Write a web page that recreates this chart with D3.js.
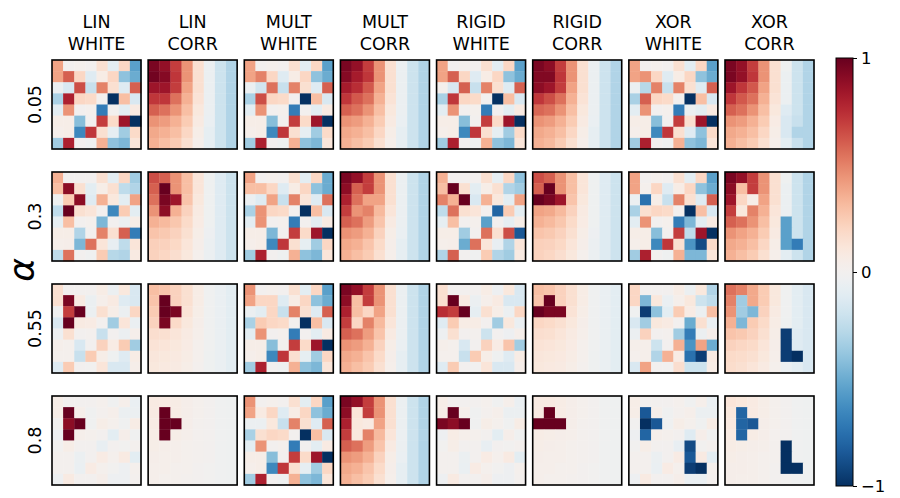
<!DOCTYPE html>
<html><head><meta charset="utf-8">
<script src="https://cdn.jsdelivr.net/npm/d3@7"></script>
<style>body{margin:0;background:#fff}svg{display:block}text{font-family:"DejaVu Sans",sans-serif;fill:#000}</style>
</head><body><svg id="c" width="900" height="498"></svg>
<script>
const titleTop = ["LIN","LIN","MULT","MULT","RIGID","RIGID","XOR","XOR"];
const titleBottom = ["WHITE","CORR","WHITE","CORR","WHITE","CORR","WHITE","CORR"];
const alphas = ["0.05","0.3","0.55","0.8"];
const cbTicks = [-1, 0, 1];

// ---- alpha = 0.05 ----
const linWhite005 = [
[0.4,0,0.02,0,0.15,-0.1,0.2,-0.55],[0.4,0.6,0.2,-0.12,0.06,0.2,-0.4,-0.5],[-0.05,-0.15,0.65,-0.22,0.5,0.15,-0.12,0.6],[-0.32,0.8,0.2,0.18,0,-1,0.3,-0.15],
[-0.1,0.45,0,0.02,-0.7,0,-0.1,0.08],[0.05,0.05,-0.42,0,0.7,0.18,0.85,-1],[0.03,0.05,-0.65,0.72,0.15,-0.08,-0.35,0.18],[-0.35,0.8,0,-0.03,0.35,-0.4,-0.45,0.12]];
const linCorr005 = [
[0.95,0.88,0.7,0.45,0.15,-0.05,-0.2,-0.3],[0.97,0.92,0.72,0.45,0.15,-0.05,-0.2,-0.3],[0.85,0.85,0.7,0.4,0.15,-0.05,-0.2,-0.3],[0.72,0.72,0.55,0.35,0.13,-0.05,-0.2,-0.3],
[0.6,0.55,0.45,0.3,0.1,-0.05,-0.2,-0.3],[0.45,0.42,0.35,0.25,0.08,-0.06,-0.2,-0.3],[0.38,0.35,0.3,0.2,0.05,-0.08,-0.2,-0.3],[0.35,0.3,0.25,0.15,0.03,-0.08,-0.2,-0.3]];
const multWhite005 = [
[0.4,0,0.02,0,0.15,-0.1,0.2,-0.55],[0.4,0.5,0.2,-0.12,0.06,0.2,-0.4,-0.5],[-0.05,-0.18,0.55,-0.22,0.5,0.15,-0.12,0.6],[-0.32,0.65,0.2,0.18,0,-1,0.3,-0.15],
[-0.1,0.45,0,0.02,-0.7,0,-0.1,0.08],[0.05,0.05,-0.42,0,0.7,0.18,0.85,-1],[0.03,0.05,-0.65,0.72,0.15,-0.08,-0.35,0.18],[-0.35,0.8,0,-0.03,0.35,-0.4,-0.45,0.12]];
const multCorr005 = [
[0.95,0.88,0.7,0.45,0.15,-0.05,-0.2,-0.3],[0.92,0.82,0.72,0.45,0.15,-0.05,-0.2,-0.3],[0.82,0.75,0.62,0.4,0.15,-0.05,-0.2,-0.3],[0.72,0.62,0.55,0.35,0.13,-0.05,-0.2,-0.3],
[0.6,0.55,0.45,0.3,0.1,-0.05,-0.2,-0.3],[0.45,0.42,0.35,0.25,0.08,-0.06,-0.2,-0.3],[0.38,0.35,0.3,0.2,0.05,-0.08,-0.2,-0.3],[0.35,0.3,0.25,0.15,0.03,-0.08,-0.2,-0.3]];
const rigidWhite005 = [
[0.4,0,0.02,0,0.15,-0.1,0.2,-0.55],[0.4,0.6,0.2,-0.12,0.06,0.2,-0.4,-0.5],[0.02,-0.15,0.6,-0.22,0.5,0.15,-0.12,0.6],[-0.32,0.72,0.2,0.18,0,-1,0.3,-0.15],
[-0.1,0.45,0,0.02,-0.7,0,-0.1,0.08],[0.05,0.05,-0.42,0,0.7,0.18,0.85,-1],[0.03,0.05,-0.65,0.72,0.15,-0.08,-0.35,0.18],[-0.35,0.8,0,-0.03,0.35,-0.4,-0.45,0.12]];
const rigidCorr005 = [
[0.95,0.9,0.7,0.45,0.15,-0.05,-0.2,-0.3],[0.93,0.93,0.72,0.45,0.15,-0.05,-0.2,-0.3],[0.9,0.85,0.7,0.4,0.15,-0.05,-0.2,-0.3],[0.72,0.65,0.55,0.35,0.13,-0.05,-0.2,-0.3],
[0.58,0.55,0.45,0.3,0.1,-0.05,-0.2,-0.3],[0.45,0.42,0.35,0.25,0.08,-0.06,-0.2,-0.3],[0.38,0.35,0.3,0.2,0.05,-0.08,-0.2,-0.3],[0.35,0.32,0.25,0.15,0.03,-0.08,-0.2,-0.3]];
const xorWhite005 = [
[0.4,0,0.02,0,0.15,-0.1,0.2,-0.55],[0.4,0.45,0.2,-0.12,0.06,0.2,-0.4,-0.5],[-0.05,-0.28,0.5,-0.22,0.5,0.15,-0.12,0.6],[-0.32,0.6,0.2,0.18,0,-1,0.3,-0.15],
[-0.1,0.45,0,0.02,-0.7,-0.05,-0.1,0.08],[0.05,0.05,-0.42,0,0.7,0.15,0.85,-1],[0.03,0.05,-0.65,0.72,0.15,-0.12,-0.4,0.18],[-0.35,0.8,0,-0.03,0.35,-0.4,-0.45,0.12]];
const xorCorr005 = [
[0.95,0.88,0.7,0.45,0.15,-0.03,-0.2,-0.3],[0.95,0.88,0.72,0.45,0.15,-0.05,-0.2,-0.3],[0.85,0.72,0.62,0.4,0.15,-0.05,-0.2,-0.3],[0.72,0.62,0.55,0.35,0.13,-0.05,-0.2,-0.3],
[0.6,0.55,0.45,0.3,0.1,-0.12,-0.2,-0.3],[0.45,0.42,0.35,0.25,0.07,-0.15,-0.22,-0.3],[0.38,0.35,0.3,0.2,0.05,-0.15,-0.3,-0.3],[0.35,0.3,0.25,0.15,0.03,-0.1,-0.22,-0.3]];

// ---- alpha = 0.3 ----
const linWhite03 = [
[0.35,0,0,0,0.15,-0.1,0.2,-0.35],[0.3,0.9,0.15,-0.1,0.05,0.15,-0.25,-0.3],[-0.03,0.25,0.9,-0.12,0.35,0.1,-0.1,0.4],[-0.25,1,0.15,0.12,0,-0.65,0.25,-0.1],
[-0.08,0.3,0,0.02,-0.45,0,-0.05,0.05],[0.05,0.05,-0.3,0,0.5,0.15,0.6,-0.7],[0.03,0.04,-0.45,0.55,0.12,-0.07,-0.25,0.12],[-0.25,0.55,0,-0.02,0.25,-0.28,-0.3,0.08]];
const linCorr03 = [
[0.65,0.6,0.45,0.3,0.12,-0.03,-0.12,-0.2],[0.6,1,0.45,0.3,0.12,-0.03,-0.12,-0.2],[0.55,0.95,0.85,0.28,0.1,-0.03,-0.12,-0.2],[0.45,0.9,0.35,0.22,0.08,-0.03,-0.12,-0.2],
[0.35,0.32,0.27,0.18,0.07,-0.03,-0.12,-0.2],[0.28,0.26,0.22,0.15,0.05,-0.04,-0.12,-0.2],[0.23,0.22,0.19,0.12,0.04,-0.05,-0.12,-0.2],[0.22,0.2,0.16,0.1,0.02,-0.05,-0.12,-0.2]];
const multWhite03 = [
[0.4,0,0.02,0,0.15,-0.1,0.2,-0.5],[0.3,0.3,0.2,-0.12,0.06,0.2,-0.4,-0.5],[-0.05,-0.12,0.4,-0.22,0.5,0.12,-0.12,0.55],[-0.32,0.45,0.2,0.18,0,-1,0.3,-0.15],
[-0.1,0.45,0,0.02,-0.7,0,-0.1,0.08],[0.05,0.05,-0.45,0,0.7,0.18,0.85,-1],[0.03,0.05,-0.65,0.72,0.15,-0.08,-0.35,0.2],[-0.35,0.8,0,-0.03,0.35,-0.4,-0.45,0.12]];
const multCorr03 = [
[0.95,0.88,0.7,0.45,0.15,-0.05,-0.2,-0.3],[0.9,0.6,0.7,0.45,0.15,-0.05,-0.2,-0.3],[0.8,0.55,0.4,0.4,0.15,-0.05,-0.2,-0.3],[0.7,0.45,0.5,0.32,0.12,-0.05,-0.2,-0.3],
[0.6,0.55,0.42,0.28,0.08,-0.05,-0.2,-0.3],[0.45,0.42,0.35,0.22,0.05,-0.06,-0.2,-0.3],[0.38,0.35,0.28,0.18,0.04,-0.08,-0.2,-0.3],[0.35,0.3,0.25,0.15,0.03,-0.08,-0.2,-0.3]];
const rigidWhite03 = [
[0.35,0,0,0,0.15,-0.08,0.2,-0.4],[0.3,1,0.15,-0.1,0.05,0.15,-0.3,-0.35],[0.5,0.35,1,-0.15,0.35,0.1,-0.1,0.4],[-0.25,0.55,0.15,0.12,0,-0.8,0.25,-0.1],
[-0.08,0.3,0,0.02,-0.55,0,-0.08,0.05],[0.05,0.05,-0.35,0,0.55,0.15,0.65,-0.85],[0.03,0.04,-0.5,0.55,0.12,-0.07,-0.3,0.12],[-0.3,0.6,0,-0.02,0.25,-0.3,-0.35,0.08]];
const rigidCorr03 = [
[0.65,0.6,0.45,0.3,0.12,-0.03,-0.12,-0.2],[0.6,1,0.45,0.3,0.12,-0.03,-0.12,-0.2],[1,0.95,0.85,0.28,0.1,-0.03,-0.12,-0.2],[0.4,0.38,0.32,0.22,0.08,-0.03,-0.12,-0.2],
[0.35,0.32,0.27,0.18,0.07,-0.03,-0.12,-0.2],[0.28,0.26,0.22,0.15,0.05,-0.04,-0.12,-0.2],[0.23,0.22,0.19,0.12,0.04,-0.05,-0.12,-0.2],[0.22,0.2,0.16,0.1,0.02,-0.05,-0.12,-0.2]];
const xorWhite03 = [
[0.4,0,0.02,0,0.15,-0.1,0.2,-0.55],[0.4,0.02,0.2,-0.12,0.06,0.2,-0.4,-0.5],[-0.05,-0.75,0.05,-0.22,0.5,0.15,-0.12,0.6],[-0.32,0.15,0.2,0.18,0,-1,0.3,-0.15],
[-0.1,0.45,0,0.02,-0.7,-0.45,-0.1,0.08],[0.05,0.05,-0.42,0,0.7,-0.25,0.85,-1],[0.03,0.05,-0.65,0.72,0.15,-0.6,-0.9,0.18],[-0.35,0.8,0,-0.03,0.35,-0.45,-0.45,0.12]];
const xorCorr03 = [
[0.95,0.88,0.7,0.45,0.15,-0.03,-0.2,-0.3],[0.9,0.3,0.7,0.45,0.15,-0.05,-0.2,-0.3],[0.85,0.2,0.05,0.4,0.15,-0.05,-0.2,-0.3],[0.7,0.1,0.5,0.35,0.12,-0.05,-0.2,-0.3],
[0.6,0.55,0.45,0.3,0.1,-0.55,-0.2,-0.3],[0.45,0.4,0.35,0.25,0.08,-0.55,-0.2,-0.3],[0.38,0.35,0.3,0.2,0.05,-0.55,-0.7,-0.3],[0.35,0.3,0.25,0.15,0.03,-0.1,-0.2,-0.3]];

// ---- alpha = 0.55 ----
const linWhite055 = [
[0.15,0,0,0,0.06,-0.05,0.1,-0.15],[0.15,0.95,0.08,-0.05,0.03,0.08,-0.12,-0.15],[-0.02,0.7,1,-0.05,0.15,0.05,-0.05,0.2],[-0.15,1,0.08,0.07,0,-0.35,0.12,-0.06],
[-0.04,0.15,0,0.01,-0.22,0,-0.05,0.03],[0.03,0.02,-0.15,0,0.22,0.07,0.25,-0.35],[0.02,0.02,-0.22,0.25,0.05,-0.03,-0.12,0.06],[-0.12,0.25,0,-0.01,0.12,-0.15,-0.15,0.04]];
const linCorr055 = [
[0.3,0.28,0.22,0.15,0.06,-0.02,-0.06,-0.1],[0.28,1,0.22,0.15,0.06,-0.02,-0.06,-0.1],[0.25,1,0.95,0.13,0.05,-0.02,-0.06,-0.1],[0.22,0.95,0.18,0.1,0.04,-0.02,-0.06,-0.1],
[0.16,0.15,0.12,0.08,0.03,-0.02,-0.06,-0.1],[0.13,0.12,0.1,0.07,0.02,-0.02,-0.06,-0.1],[0.11,0.1,0.09,0.06,0.02,-0.03,-0.06,-0.1],[0.1,0.09,0.08,0.05,0.01,-0.03,-0.06,-0.1]];
const multWhite055 = [
[0.45,0,0.02,0,0.15,-0.1,0.2,-0.55],[0.4,0.2,0.2,-0.12,0.06,0.2,-0.4,-0.5],[-0.05,-0.1,0.2,-0.22,0.5,0.15,-0.12,0.6],[-0.32,0.25,0.2,0.18,0,-1,0.3,-0.15],
[-0.1,0.45,0,0.02,-0.7,0,-0.1,0.08],[0.05,0.05,-0.42,0,0.7,0.18,0.85,-1],[0.03,0.05,-0.65,0.72,0.15,-0.08,-0.35,0.2],[-0.35,0.8,0,-0.03,0.35,-0.4,-0.45,0.12]];
const multCorr055 = [
[0.95,0.88,0.7,0.45,0.15,-0.05,-0.2,-0.3],[0.9,0.3,0.7,0.45,0.15,-0.05,-0.2,-0.3],[0.8,0.3,0.2,0.4,0.15,-0.05,-0.2,-0.3],[0.7,0.2,0.5,0.32,0.12,-0.05,-0.2,-0.3],
[0.6,0.55,0.42,0.28,0.08,-0.05,-0.2,-0.3],[0.45,0.42,0.35,0.22,0.05,-0.06,-0.2,-0.3],[0.38,0.35,0.28,0.18,0.04,-0.08,-0.2,-0.3],[0.35,0.3,0.25,0.15,0.03,-0.08,-0.2,-0.3]];
const rigidWhite055 = [
[0.15,0,0,0,0.06,-0.04,0.1,-0.15],[0.15,1,0.08,-0.05,0.03,0.08,-0.15,-0.15],[0.75,0.7,1,-0.08,0.15,0.05,-0.05,0.2],[-0.12,0.25,0.06,0.06,0,-0.35,0.1,-0.06],
[-0.04,0.15,0,0.01,-0.2,0,-0.04,0.03],[0.03,0.02,-0.15,0,0.22,0.07,0.28,-0.35],[0.02,0.02,-0.22,0.25,0.05,-0.03,-0.12,0.06],[-0.12,0.25,0,-0.01,0.12,-0.15,-0.15,0.04]];
const rigidCorr055 = [
[0.3,0.28,0.22,0.15,0.06,-0.02,-0.06,-0.1],[0.28,1,0.22,0.15,0.06,-0.02,-0.06,-0.1],[1,0.95,0.95,0.13,0.05,-0.02,-0.06,-0.1],[0.2,0.18,0.15,0.1,0.04,-0.02,-0.06,-0.1],
[0.16,0.15,0.12,0.08,0.03,-0.02,-0.06,-0.1],[0.13,0.12,0.1,0.07,0.02,-0.02,-0.06,-0.1],[0.11,0.1,0.09,0.06,0.02,-0.03,-0.06,-0.1],[0.1,0.09,0.08,0.05,0.01,-0.03,-0.06,-0.1]];
const xorWhite055 = [
[0.2,0,0,0,0.06,-0.05,0.1,-0.3],[0.2,-0.45,0.1,-0.06,0.03,0.1,-0.2,-0.25],[-0.02,-0.95,-0.4,-0.1,0.25,0.07,-0.05,0.3],[-0.15,-0.35,0.1,0.08,0,-0.5,0.15,-0.06],
[-0.05,0.22,0,0.01,-0.35,-0.7,-0.05,0.04],[0.03,0.03,-0.2,0,0.35,-0.6,0.4,-0.5],[0.02,0.03,-0.3,0.35,0.07,-0.75,-0.95,0.08],[-0.15,0.4,0,-0.01,0.16,-0.2,-0.2,0.06]];
const xorCorr055 = [
[0.55,0.5,0.38,0.25,0.1,-0.02,-0.1,-0.15],[0.5,-0.35,0.38,0.25,0.1,-0.02,-0.1,-0.15],[0.45,-0.35,-0.45,0.22,0.08,-0.02,-0.1,-0.15],[0.35,-0.45,0.25,0.18,0.06,-0.03,-0.1,-0.15],
[0.28,0.26,0.22,0.15,0.05,-0.95,-0.12,-0.15],[0.22,0.2,0.18,0.12,0.04,-0.95,-0.12,-0.15],[0.18,0.17,0.15,0.1,0.03,-0.95,-1,-0.15],[0.17,0.15,0.12,0.08,0.02,-0.06,-0.1,-0.15]];

// ---- alpha = 0.8 ----
const linWhite08 = [
[0.05,0,0,0,0.02,-0.02,0.03,-0.06],[0.05,1,0.03,-0.02,0.01,0.03,-0.05,-0.05],[-0.01,0.9,1,-0.02,0.05,0.02,-0.02,0.06],[-0.04,1,0.03,0.02,0,-0.1,0.04,-0.02],
[-0.01,0.05,0,0,-0.07,0,-0.01,0.01],[0.01,0.01,-0.05,0,0.07,0.02,0.08,-0.1],[0.01,0.01,-0.06,0.07,0.02,-0.01,-0.04,0.02],[-0.04,0.08,0,0,0.04,-0.04,-0.04,0.01]];
const linCorr08 = [
[0.08,0.08,0.06,0.04,0.02,0,-0.02,-0.03],[0.08,1,0.06,0.04,0.02,0,-0.02,-0.03],[0.07,1,1,0.04,0.01,0,-0.02,-0.03],[0.06,1,0.05,0.03,0.01,0,-0.02,-0.03],
[0.05,0.04,0.03,0.02,0.01,0,-0.02,-0.03],[0.04,0.03,0.03,0.02,0.01,0,-0.02,-0.03],[0.03,0.03,0.02,0.02,0,-0.01,-0.02,-0.03],[0.03,0.02,0.02,0.01,0,-0.01,-0.02,-0.03]];
const multWhite08 = [
[0.45,0,0.02,0,0.15,-0.1,0.2,-0.55],[0.4,0.08,0.2,-0.12,0.06,0.2,-0.4,-0.5],[-0.05,-0.05,0.1,-0.22,0.5,0.15,-0.12,0.6],[-0.32,0.15,0.2,0.18,0,-1,0.3,-0.15],
[-0.1,0.45,0,0.02,-0.7,0,-0.1,0.08],[0.05,0.05,-0.42,0,0.7,0.18,0.85,-1],[0.03,0.05,-0.65,0.72,0.15,-0.08,-0.35,0.2],[-0.35,0.8,0,-0.03,0.35,-0.4,-0.45,0.12]];
const multCorr08 = [
[0.95,0.88,0.7,0.45,0.15,-0.05,-0.2,-0.3],[0.9,0.12,0.7,0.45,0.15,-0.05,-0.2,-0.3],[0.8,0.1,0.08,0.4,0.15,-0.05,-0.2,-0.3],[0.7,0.1,0.5,0.32,0.12,-0.05,-0.2,-0.3],
[0.6,0.55,0.42,0.28,0.08,-0.05,-0.2,-0.3],[0.45,0.42,0.35,0.22,0.05,-0.06,-0.2,-0.3],[0.38,0.35,0.28,0.18,0.04,-0.08,-0.2,-0.3],[0.35,0.3,0.25,0.15,0.03,-0.08,-0.2,-0.3]];
const rigidWhite08 = [
[0.05,0,0,0,0.02,-0.02,0.03,-0.06],[0.05,1,0.03,-0.02,0.01,0.03,-0.05,-0.05],[0.95,0.9,1,-0.02,0.05,0.02,-0.02,0.06],[-0.04,0.06,0.03,0.02,0,-0.1,0.04,-0.02],
[-0.01,0.05,0,0,-0.07,0,-0.01,0.01],[0.01,0.01,-0.05,0,0.07,0.02,0.08,-0.1],[0.01,0.01,-0.06,0.07,0.02,-0.01,-0.04,0.02],[-0.04,0.08,0,0,0.04,-0.04,-0.04,0.01]];
const rigidCorr08 = [
[0.08,0.08,0.06,0.04,0.02,0,-0.02,-0.03],[0.08,1,0.06,0.04,0.02,0,-0.02,-0.03],[1,1,1,0.04,0.01,0,-0.02,-0.03],[0.06,0.05,0.04,0.03,0.01,0,-0.02,-0.03],
[0.05,0.04,0.03,0.02,0.01,0,-0.02,-0.03],[0.04,0.03,0.03,0.02,0.01,0,-0.02,-0.03],[0.03,0.03,0.02,0.02,0,-0.01,-0.02,-0.03],[0.03,0.02,0.02,0.01,0,-0.01,-0.02,-0.03]];
const xorWhite08 = [
[0.05,0,0,0,0.02,-0.02,0.03,-0.06],[0.05,-0.85,0.03,-0.02,0.01,0.03,-0.05,-0.05],[-0.01,-1,-0.85,-0.02,0.05,0.02,-0.02,0.06],[-0.04,-0.8,0.03,0.02,0,-0.12,0.04,-0.02],
[-0.01,0.05,0,0,-0.07,-0.9,-0.01,0.01],[0.01,0.01,-0.05,0,0.07,-0.85,0.08,-0.1],[0.01,0.01,-0.06,0.07,0.02,-0.95,-1,0.02],[-0.04,0.08,0,0,0.04,-0.06,-0.06,0.01]];
const xorCorr08 = [
[0.12,0.1,0.08,0.05,0.02,0,-0.02,-0.03],[0.1,-0.8,0.08,0.05,0.02,0,-0.02,-0.03],[0.09,-0.8,-0.85,0.04,0.02,0,-0.02,-0.03],[0.08,-0.8,0.06,0.04,0.01,0,-0.02,-0.03],
[0.06,0.05,0.04,0.03,0.01,-1,-0.02,-0.03],[0.05,0.04,0.03,0.02,0.01,-1,-0.02,-0.03],[0.04,0.04,0.03,0.02,0,-1,-1,-0.03],[0.04,0.03,0.03,0.02,0,-0.01,-0.02,-0.03]];

const grid = [
  [linWhite005, linCorr005, multWhite005, multCorr005, rigidWhite005, rigidCorr005, xorWhite005, xorCorr005],
  [linWhite03, linCorr03, multWhite03, multCorr03, rigidWhite03, rigidCorr03, xorWhite03, xorCorr03],
  [linWhite055, linCorr055, multWhite055, multCorr055, rigidWhite055, rigidCorr055, xorWhite055, xorCorr055],
  [linWhite08, linCorr08, multWhite08, multCorr08, rigidWhite08, rigidCorr08, xorWhite08, xorCorr08]
];

const svg = d3.select("#c");
const color = d3.scaleDiverging(d3.interpolateRdBu).domain([1, 0, -1]);
const panelSize = 89;
const colX = d3.scaleLinear().domain([0, 7]).range([52, 725]);
const rowY = d3.scaleLinear().domain([0, 3]).range([60, 396]);
const cell = d3.scaleBand().domain(d3.range(8)).range([0, panelSize]);

grid.forEach((row, r) => {
  row.forEach((mat, c) => {
    const g = svg.append("g").attr("transform", `translate(${colX(c)},${rowY(r)})`);
    const cells = [];
    mat.forEach((line, i) => line.forEach((v, j) => cells.push({i, j, v})));
    g.selectAll("rect.cell").data(cells).join("rect").attr("class", "cell")
      .attr("x", d => cell(d.j)).attr("y", d => cell(d.i))
      .attr("width", cell.bandwidth() + 0.4).attr("height", cell.bandwidth() + 0.4)
      .attr("fill", d => color(d.v));
    g.append("rect").attr("width", panelSize).attr("height", panelSize)
      .attr("fill", "none").attr("stroke", "#000").attr("stroke-width", 1.6);
  });
});

// column titles
titleTop.forEach((t, c) => {
  const cx = colX(c) + panelSize / 2;
  svg.append("text").attr("x", cx).attr("y", 28).attr("text-anchor", "middle").attr("font-size", 17.5).text(t);
  svg.append("text").attr("x", cx).attr("y", 50).attr("text-anchor", "middle").attr("font-size", 17.5).text(titleBottom[c]);
});

// row labels
alphas.forEach((a, r) => {
  const cy = rowY(r) + panelSize / 2;
  svg.append("text").attr("transform", `translate(41,${cy}) rotate(-90)`)
    .attr("text-anchor", "middle").attr("font-size", 17.5).text(a);
});
svg.append("text").attr("transform", `translate(34,270) rotate(-90)`)
  .attr("text-anchor", "middle").attr("font-size", 36).attr("font-style", "italic").text("α");

// colorbar
const cbX = 836, cbW = 17, cbTop = 58, cbBot = 486;
const defs = svg.append("defs");
const grad = defs.append("linearGradient").attr("id", "cbg").attr("x1", 0).attr("y1", 1).attr("x2", 0).attr("y2", 0);
d3.range(0, 1.0001, 0.02).forEach(t => grad.append("stop").attr("offset", t).attr("stop-color", color(-1 + 2 * t)));
svg.append("rect").attr("x", cbX).attr("y", cbTop).attr("width", cbW).attr("height", cbBot - cbTop).attr("fill", "url(#cbg)");
svg.append("rect").attr("x", cbX).attr("y", cbTop).attr("width", cbW).attr("height", cbBot - cbTop)
  .attr("fill", "none").attr("stroke", "#000").attr("stroke-width", 1);
const cbScale = d3.scaleLinear().domain([-1, 1]).range([cbBot, cbTop]);
const ax = svg.append("g").attr("transform", `translate(${cbX + cbW},0)`)
  .call(d3.axisRight(cbScale).tickValues(cbTicks).tickSize(4).tickPadding(4).tickFormat(d3.format("d")));
ax.select(".domain").remove();
ax.selectAll("text").attr("font-size", 16.5).attr("font-family", "DejaVu Sans").attr("fill", "#000");
ax.selectAll("line").attr("stroke", "#000");
</script></body></html>
